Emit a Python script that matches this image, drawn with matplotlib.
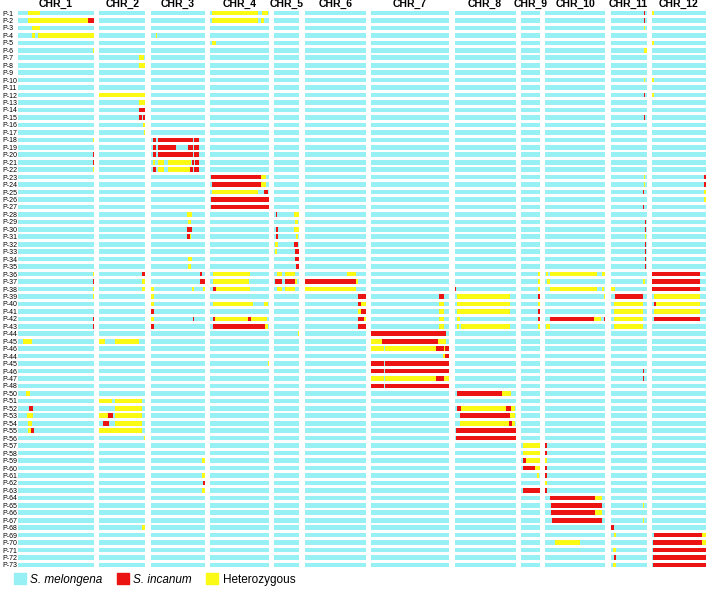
import matplotlib
matplotlib.use('Agg')
import matplotlib.pyplot as plt
from matplotlib.patches import Patch

plt.rcParams['font.family'] = ['Liberation Sans', 'DejaVu Sans']

# Row (line) names, top to bottom
lines = ['P-%d' % i for i in range(1, 47)] + ['P-44', 'P-45', 'P-46', 'P-47', 'P-48'] + \
        ['P-%d' % i for i in range(50, 74)]

chr_names = ['CHR_1', 'CHR_2', 'CHR_3', 'CHR_4', 'CHR_5', 'CHR_6',
             'CHR_7', 'CHR_8', 'CHR_9', 'CHR_10', 'CHR_11', 'CHR_12']
# relative chromosome lengths
chr_len = [76, 46, 54, 59, 25, 61, 78, 61, 19, 60, 36, 54]

# introgressed segments: (row index, start, end, genotype)  I = S. incanum, H = heterozygous
chr1_segs = [(0, 10, 22, 'H'), (1, 10, 70, 'H'), (1, 70, 76, 'I'), (2, 13.5, 22, 'H'),
             (3, 13.5, 16.5, 'H'), (3, 19.5, 75.5, 'H'), (5, 75, 76, 'H'), (17, 75, 76, 'H'),
             (19, 75, 76, 'I'), (20, 75, 76, 'I'), (21, 75, 76, 'H'), (35, 75, 76, 'H'),
             (36, 74.5, 76, 'I'), (37, 75, 76, 'H'), (38, 75, 76, 'H'), (41, 74.5, 76, 'I'),
             (42, 74.5, 76, 'I'), (44, 5, 13.5, 'H'), (51, 8, 11.5, 'H'), (53, 11, 15, 'I'),
             (54, 8.5, 15, 'H'), (55, 10, 14, 'H'), (56, 9.5, 13, 'H'), (56, 13, 15.5, 'I')]
chr2_segs = [(6, 40, 45, 'H'), (7, 40, 46, 'H'), (11, 0, 46, 'H'), (12, 40, 46, 'H'),
             (13, 40, 46, 'I'), (14, 40, 42.8, 'I'), (14, 43.5, 46, 'I'), (15, 44, 45.5, 'H'),
             (16, 44.5, 45.5, 'H'), (35, 42.7, 46, 'I'), (36, 43, 46, 'H'), (37, 43, 46, 'H'),
             (44, 0, 6, 'H'), (44, 16, 40, 'H'), (52, 0, 12.7, 'H'), (52, 16, 42.7, 'H'),
             (53, 16, 42.7, 'H'), (54, 0, 8.3, 'H'), (54, 8.3, 13.3, 'I'), (54, 16, 42.7, 'H'),
             (55, 4, 10, 'I'), (55, 16, 42.7, 'H'), (56, 0, 42.7, 'H'), (57, 44.5, 45.5, 'H'),
             (69, 42.7, 46, 'H')]
chr3_segs = [(3, 5, 6, 'H'),
             (17, 2.5, 5, 'I'), (17, 7.3, 42.3, 'I'), (17, 43.3, 48, 'I'),
             (18, 2.5, 5, 'I'), (18, 7.3, 25.7, 'I'), (18, 37.3, 42.3, 'I'), (18, 43.3, 48, 'I'),
             (19, 2.5, 5, 'I'), (19, 7.3, 42.3, 'I'), (19, 43.3, 48, 'I'),
             (20, 2.5, 4, 'H'), (20, 7.3, 13.3, 'H'), (20, 17.3, 40.7, 'H'), (20, 41, 43, 'I'),
             (20, 44, 48, 'I'),
             (21, 2.5, 5, 'I'), (21, 7.3, 13.3, 'H'), (21, 17.3, 39, 'H'), (21, 39, 42.3, 'I'),
             (21, 43.3, 48, 'I'),
             (27, 36.7, 41.3, 'H'), (28, 37.3, 40.7, 'H'), (29, 36.7, 41.3, 'I'),
             (30, 36.7, 39, 'I'), (30, 39, 40.7, 'H'), (33, 37.3, 41.3, 'H'), (34, 37.3, 40.7, 'H'),
             (35, 49, 51.3, 'I'), (36, 49, 51.3, 'I'), (36, 51.7, 54, 'I'),
             (37, 0, 3.5, 'H'), (37, 41.3, 43, 'H'), (37, 52.3, 54, 'H'),
             (38, 0, 3, 'H'), (39, 0, 3, 'H'), (40, 0, 3, 'I'), (41, 0, 3, 'H'), (41, 42.3, 43, 'I'),
             (42, 0, 3, 'I'), (60, 51.3, 54, 'H'), (62, 51.3, 54, 'H'), (63, 52, 54, 'I'),
             (64, 51.3, 54, 'H')]
chr4_segs = [(0, 2, 48.3, 'H'), (0, 51.7, 58.3, 'H'), (1, 2, 48.3, 'H'), (1, 50.7, 54, 'H'),
             (4, 2, 6, 'H'), (22, 1, 51, 'I'), (22, 51, 56, 'H'), (23, 2, 51, 'I'), (23, 51, 56, 'H'),
             (24, 2, 48.3, 'H'), (24, 54, 58.3, 'I'), (25, 1, 59, 'I'), (26, 1, 59, 'I'),
             (35, 3.3, 40, 'H'), (36, 3.3, 39.3, 'H'), (37, 3.3, 5.7, 'I'), (37, 5.7, 40, 'H'),
             (39, 3.3, 43.3, 'H'), (39, 54.3, 58.3, 'H'),
             (41, 2.7, 5.3, 'I'), (41, 5.3, 37.7, 'H'), (41, 37.7, 40.7, 'I'), (41, 40.7, 56.7, 'H'),
             (42, 3.3, 55, 'I'), (42, 55, 58.3, 'H'), (47, 58, 59, 'H')]
chr5_segs = [(27, 1.5, 2.7, 'I'), (27, 20, 25, 'H'), (28, 20.7, 24, 'H'),
             (29, 1.7, 3.3, 'I'), (29, 20, 25, 'H'), (30, 1.7, 3.3, 'I'), (30, 21.7, 24, 'H'),
             (31, 1, 3.3, 'H'), (31, 19.7, 23.7, 'I'), (32, 1, 2.7, 'H'), (32, 20.7, 24.3, 'I'),
             (33, 20.7, 24.3, 'I'), (34, 21.7, 24.3, 'I'),
             (35, 2.7, 7.3, 'H'), (35, 11, 20.7, 'H'),
             (36, 0.7, 7.7, 'I'), (36, 10.7, 20.7, 'I'), (36, 20.7, 22.3, 'H'),
             (37, 2.7, 7.7, 'H'), (37, 10.7, 20.7, 'H'), (43, 24, 25, 'H')]
chr6_segs = [(35, 42.3, 51.3, 'H'), (36, 0, 51.3, 'I'), (36, 51.3, 53.3, 'H'), (37, 0, 51.3, 'H'),
             (38, 53.3, 60.7, 'I'), (39, 53.3, 55.7, 'I'), (39, 55.7, 60.7, 'H'),
             (40, 53.3, 56.3, 'H'), (40, 56.3, 60.7, 'I'), (41, 53.3, 59, 'I'), (41, 59, 60.7, 'H'),
             (42, 53.3, 60.7, 'I')]
chr7_segs = [(38, 68, 73, 'I'), (39, 68, 73, 'H'), (40, 68, 73, 'H'), (41, 68, 73, 'H'),
             (42, 68, 73, 'H'), (43, 0, 75, 'I'),
             (44, 0, 11, 'H'), (44, 11, 67, 'I'), (44, 67, 75, 'H'),
             (45, 0, 12.7, 'H'), (45, 13.7, 65, 'H'), (45, 65, 73.3, 'I'), (45, 73.3, 74.3, 'H'),
             (45, 74.3, 77.7, 'I'),
             (46, 72, 74, 'H'), (46, 74.3, 77.7, 'I'),
             (47, 0, 12.7, 'I'), (47, 13.7, 78, 'I'), (48, 0, 12.7, 'I'), (48, 13.7, 78, 'I'),
             (49, 0, 12.7, 'H'), (49, 13.7, 65, 'H'), (49, 65, 73, 'I'), (49, 73, 77.7, 'H'),
             (50, 0, 12.7, 'I'), (50, 13.7, 78, 'I')]
chr8_segs = [(37, 0, 1.5, 'I'), (38, 2, 55, 'H'), (39, 2, 55, 'H'), (40, 2, 55, 'H'),
             (41, 2, 5.7, 'H'), (42, 2, 4, 'H'), (42, 6.3, 55, 'H'),
             (51, 2, 47.3, 'I'), (51, 47.3, 56.3, 'H'),
             (53, 2, 6.3, 'I'), (53, 6.3, 51.7, 'H'), (53, 51.7, 56.3, 'I'), (53, 56.3, 60.7, 'H'),
             (54, 5.7, 55, 'I'), (54, 55, 60.7, 'H'),
             (55, 5.7, 54, 'H'), (55, 54, 57.3, 'I'), (55, 57.3, 60.7, 'H'),
             (56, 1.3, 61, 'I'), (57, 1.3, 61, 'I')]
chr9_segs = [(35, 17.3, 19, 'H'), (36, 17.3, 19, 'H'), (37, 17.3, 19, 'H'), (38, 17.3, 19, 'I'),
             (39, 17.3, 19, 'H'), (40, 17.3, 19, 'I'), (41, 17.3, 19, 'I'), (42, 17.3, 19, 'H'),
             (58, 1.7, 19, 'H'), (59, 1.7, 19, 'H'), (60, 1.7, 5, 'I'), (60, 5, 19, 'H'),
             (61, 1.7, 14.3, 'I'), (61, 14.3, 19, 'H'), (62, 16, 18, 'H'), (64, 1.7, 19, 'I')]
chr10_segs = [(35, 0.7, 3, 'H'), (35, 4.3, 51.7, 'H'), (35, 56.7, 60, 'H'), (36, 2, 4.7, 'H'),
              (37, 4.3, 51.7, 'H'), (37, 56.7, 59, 'H'), (38, 59, 60, 'H'),
              (41, 4.3, 48.3, 'I'), (41, 48.3, 56, 'H'), (41, 58.3, 60, 'I'), (42, 1, 4.3, 'H'),
              (58, 0, 2, 'I'), (59, 0, 2, 'I'), (60, 0, 2, 'H'), (61, 0, 2, 'I'), (62, 0, 2, 'I'),
              (63, 0, 2, 'H'), (64, 0, 2, 'I'),
              (65, 5, 50, 'I'), (65, 50, 56.7, 'H'), (66, 5.7, 56.7, 'I'),
              (67, 5.7, 50, 'I'), (67, 50, 56.7, 'H'), (68, 6.7, 56.7, 'I'), (71, 9.3, 34.3, 'H')]
chr11_segs = [(0, 33, 34, 'I'), (1, 33, 34, 'I'), (2, 33, 34, 'H'), (5, 33, 36, 'H'),
              (9, 33, 34, 'H'), (11, 33, 34, 'I'), (14, 33, 34, 'I'), (22, 33, 34, 'H'),
              (23, 33, 34, 'H'), (24, 32.5, 33.5, 'I'), (26, 32.5, 33.5, 'I'), (28, 34.5, 35.5, 'I'),
              (29, 34.5, 35.5, 'I'), (30, 34.5, 35.5, 'H'), (31, 34.5, 35.5, 'I'),
              (32, 34.5, 35.5, 'I'), (33, 34.5, 35.5, 'I'), (34, 34.5, 35.5, 'I'),
              (36, 32.5, 34, 'H'), (37, 0, 4.7, 'H'), (38, 4.7, 32.3, 'I'),
              (39, 3.7, 32.3, 'H'), (40, 3.7, 32.3, 'H'), (41, 3.7, 32.3, 'H'), (42, 3.7, 32.3, 'H'),
              (48, 32.5, 33.5, 'I'), (49, 32.5, 33.5, 'I'), (66, 32.5, 33.5, 'H'),
              (68, 32.5, 33.5, 'H'), (69, 0, 3.3, 'I'), (70, 3.3, 5.3, 'H'), (72, 2.3, 5.3, 'H'),
              (73, 3.3, 5.3, 'I'), (74, 2.3, 5.3, 'H')]
chr12_segs = [(0, 0, 1.7, 'H'), (4, 0, 1.7, 'H'), (9, 0, 1.7, 'H'), (11, 0, 1.7, 'H'),
              (22, 52, 54, 'I'), (23, 52, 54, 'I'), (24, 52.5, 54, 'H'), (25, 52.5, 54, 'H'),
              (35, 0, 48.3, 'I'), (36, 0, 48.3, 'I'), (37, 0, 48.3, 'I'), (38, 1.7, 48.3, 'H'),
              (39, 1.7, 4, 'I'), (39, 4, 48.3, 'H'), (40, 1.7, 48.3, 'H'), (41, 1.7, 48.3, 'I'),
              (70, 1.7, 50, 'I'), (70, 50, 54, 'H'), (71, 1, 50, 'I'), (71, 50, 54, 'H'),
              (72, 1, 54, 'I'), (73, 1, 54, 'I'), (74, 1, 54, 'I')]

all_segs = [chr1_segs, chr2_segs, chr3_segs, chr4_segs, chr5_segs, chr6_segs,
            chr7_segs, chr8_segs, chr9_segs, chr10_segs, chr11_segs, chr12_segs]

col_mel = '#96F0F4'
colors = {'I': '#EC1313', 'H': '#FAFA14'}
barH = 0.62

fig = plt.figure(figsize=(7.08, 5.97), dpi=100)
gs = fig.add_gridspec(1, 12, width_ratios=chr_len, left=18/708, right=706/708,
                      top=1 - 9.3/597, bottom=1 - 568.7/597, wspace=0.102)

nrow = len(lines)
for c in range(12):
    ax = fig.add_subplot(gs[0, c])
    ax.barh(range(nrow), [chr_len[c]] * nrow, left=0, height=barH, color=col_mel, linewidth=0)
    for (r, s, e, g) in all_segs[c]:
        ax.barh(r, e - s, left=s, height=barH, color=colors[g], linewidth=0)
    ax.set_xlim(0, chr_len[c])
    ax.set_ylim(nrow - 0.5, -0.5)
    for sp in ax.spines.values():
        sp.set_visible(False)
    ax.set_xticks([])
    ax.set_title(chr_names[c], fontsize=7.5, fontweight='bold', pad=1.5)
    if c == 0:
        ax.set_yticks(range(nrow))
        ax.set_yticklabels(lines, fontsize=5)
        ax.tick_params(axis='y', length=0, pad=11.5)
        for lab in ax.get_yticklabels():
            lab.set_ha('left')
    else:
        ax.set_yticks([])

handles = [Patch(color=col_mel), Patch(color=colors['I']), Patch(color=colors['H'])]
leg = fig.legend(handles, ['S. melongena', 'S. incanum', 'Heterozygous'], loc='lower left',
                 bbox_to_anchor=(0.008, 0.005), ncol=3, frameon=False, fontsize=8.5,
                 handlelength=1.0, handleheight=1.0, handletextpad=0.4, columnspacing=1.2,
                 borderpad=0.2)
leg.get_texts()[0].set_style('italic')
leg.get_texts()[1].set_style('italic')

fig.savefig('out.png', dpi=100)
